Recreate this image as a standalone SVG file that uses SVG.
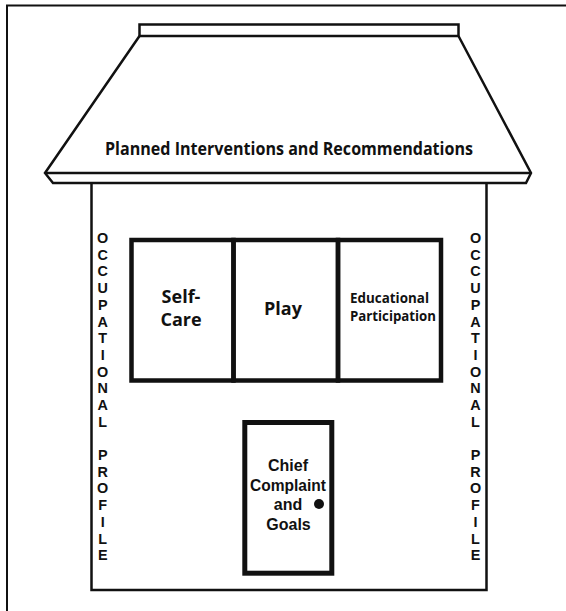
<svg xmlns="http://www.w3.org/2000/svg" width="566" height="611" viewBox="0 0 566 611">
<style>
.ln{fill:none;stroke:#111;stroke-linejoin:miter}
.thin{stroke-width:2.5}
.thick{stroke-width:4.5}
.t{font-family:"Open Sans","Liberation Sans",sans-serif;font-weight:700;fill:#111}
.d{font-family:"Liberation Sans",Arial,sans-serif;font-weight:700;fill:#111;font-size:16px;text-anchor:middle}
.v{font-family:"Liberation Sans",Arial,sans-serif;font-weight:700;fill:#111;font-size:14.4px;text-anchor:middle}
.c{text-anchor:middle}
</style>
<rect width="566" height="611" fill="#fff"/>
<g id="frame">
<path class="ln" d="M7,611 V5.5 H566" stroke-width="2"/>
</g>
<g id="roof">
<rect class="ln thin" x="139.5" y="24.5" width="319" height="11.5"/>
<path class="ln thin" d="M139.5,36 L45,173 L53,183 L526,183 L531,173 L458.5,36"/>
<path class="ln thin" d="M45,173 H531"/>
<text class="t" x="289" y="155" font-size="17" text-anchor="middle" textLength="368" lengthAdjust="spacingAndGlyphs">Planned Interventions and Recommendations</text>
</g>
<g id="walls">
<path class="ln thin" d="M91.5,183 V590 H486.5 V183"/>
</g>
<g id="self-care">
<rect class="ln thick" x="131.5" y="240" width="102" height="140.5"/>
<text class="t c" font-size="18" x="181" y="303">Self-</text>
<text class="t c" font-size="18" x="181" y="326">Care</text>
</g>
<g id="play">
<rect class="ln thick" x="233.5" y="240" width="104.5" height="140.5"/>
<text class="t c" font-size="18" x="283" y="315">Play</text>
</g>
<g id="educational-participation">
<rect class="ln thick" x="338" y="240" width="103" height="140.5"/>
<text class="t" font-size="14" x="350" y="303" textLength="79" lengthAdjust="spacingAndGlyphs">Educational</text>
<text class="t" font-size="14" x="350" y="321" textLength="86" lengthAdjust="spacingAndGlyphs">Participation</text>
</g>
<g id="door">
<rect class="ln" stroke-width="5" x="244.8" y="422.5" width="87" height="150.7"/>
<text class="d" x="288" y="470.5">Chief</text>
<text class="d" x="288" y="490.5" textLength="76" lengthAdjust="spacingAndGlyphs">Complaint</text>
<text class="d" x="288" y="510">and</text>
<text class="d" x="288.5" y="530">Goals</text>
<circle cx="319" cy="504" r="5" fill="#111"/>
</g>
<g id="profile-left">
<text class="v"><tspan x="102.7" y="243">O</tspan><tspan x="102.7" y="259.7">C</tspan><tspan x="102.7" y="276.4">C</tspan><tspan x="102.7" y="293.1">U</tspan><tspan x="102.7" y="309.8">P</tspan><tspan x="102.7" y="326.5">A</tspan><tspan x="102.7" y="343.2">T</tspan><tspan x="102.7" y="359.9">I</tspan><tspan x="102.7" y="376.6">O</tspan><tspan x="102.7" y="393.3">N</tspan><tspan x="102.7" y="410">A</tspan><tspan x="102.7" y="426.7">L</tspan><tspan x="102.7" y="460">P</tspan><tspan x="102.7" y="476.7">R</tspan><tspan x="102.7" y="493.4">O</tspan><tspan x="102.7" y="510.1">F</tspan><tspan x="102.7" y="526.8">I</tspan><tspan x="102.7" y="543.5">L</tspan><tspan x="102.7" y="560.2">E</tspan></text>
</g>
<g id="profile-right">
<text class="v"><tspan x="475.5" y="243">O</tspan><tspan x="475.5" y="259.7">C</tspan><tspan x="475.5" y="276.4">C</tspan><tspan x="475.5" y="293.1">U</tspan><tspan x="475.5" y="309.8">P</tspan><tspan x="475.5" y="326.5">A</tspan><tspan x="475.5" y="343.2">T</tspan><tspan x="475.5" y="359.9">I</tspan><tspan x="475.5" y="376.6">O</tspan><tspan x="475.5" y="393.3">N</tspan><tspan x="475.5" y="410">A</tspan><tspan x="475.5" y="426.7">L</tspan><tspan x="475.5" y="460">P</tspan><tspan x="475.5" y="476.7">R</tspan><tspan x="475.5" y="493.4">O</tspan><tspan x="475.5" y="510.1">F</tspan><tspan x="475.5" y="526.8">I</tspan><tspan x="475.5" y="543.5">L</tspan><tspan x="475.5" y="560.2">E</tspan></text>
</g>
<g id="connectors"/>
</svg>
